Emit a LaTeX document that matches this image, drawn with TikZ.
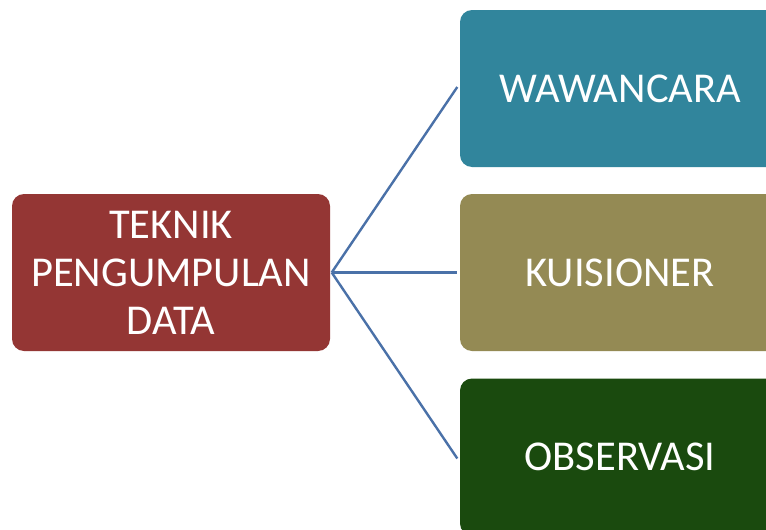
\documentclass[tikz,border=0pt]{standalone}
\usepackage{fontspec}
\setmainfont{Carlito}
\definecolor{cred}{HTML}{943634}
\definecolor{cteal}{HTML}{31859C}
\definecolor{colive}{HTML}{948A54}
\definecolor{cgreen}{HTML}{1A4A0E}
\definecolor{cline}{HTML}{4A71A8}
\tikzset{
  boxnode/.style={rounded corners=12pt, minimum width=#1, minimum height=157pt, inner sep=0pt, text=white, align=center, font=\fontsize{42.5}{48}\selectfont},
  link/.style={draw=cline, line width=2.4pt}
}
\begin{document}
\begin{tikzpicture}[x=1pt,y=-1pt]
\useasboundingbox (0,0) rectangle (766,530);
\clip (0,0) rectangle (766,530);
\fill[white] (0,0) rectangle (766,530);
\node[boxnode=318pt, fill=cred] (src) at (171,272.5) {TEKNIK\\PENGUMPULAN\\DATA};
\node[boxnode=320pt, fill=cteal] (w) at (620,88.5) {WAWANCARA};
\node[boxnode=320pt, fill=colive] (k) at (620,272.5) {KUISIONER};
\node[boxnode=320pt, fill=cgreen] (o) at (620,457) {OBSERVASI};
\coordinate (s) at ([xshift=1.5pt]src.east);
\draw[link] (s) -- ([xshift=-2.5pt,yshift=1.5pt]w.west);
\draw[link] (s) -- ([xshift=-2.5pt]k.west);
\draw[link] (s) -- ([xshift=-2.5pt,yshift=-1.5pt]o.west);
\end{tikzpicture}
\end{document}
